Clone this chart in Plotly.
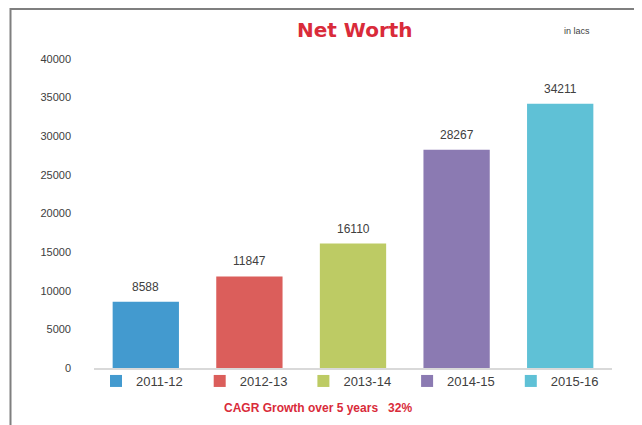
import plotly.graph_objects as go

years = ["2011-12", "2012-13", "2013-14", "2014-15", "2015-16"]
net_worth = [8588, 11847, 16110, 28267, 34211]
colors = ["#439ACF", "#DB5E5B", "#BDCB64", "#8B7AB2", "#5FC1D6"]
y_ticks = [0, 5000, 10000, 15000, 20000, 25000, 30000, 35000, 40000]

# page is drawn with an 8px body margin -> figure coords = page coords - 8
W, H = 634, 417
L, R, T, B = 86, 30, 51, 57
pw, ph = W - L - R, H - T - B

def px_x(x):
    return (x - 8 - L) / pw

def px_y(y):
    return (H - B - (y - 8)) / ph

fig = go.Figure()
for yr, v, c in zip(years, net_worth, colors):
    fig.add_trace(go.Bar(x=[yr], y=[v], name=yr, marker=dict(color=c, line=dict(width=0)),
                         width=0.64, hoverinfo="x+y"))
    fig.add_annotation(x=yr, y=v, text=str(v), showarrow=False, yanchor="bottom", yshift=6,
                       font=dict(family="Liberation Sans", size=12, color="#404040"))

fig.add_annotation(xref="paper", yref="paper", x=px_x(355), y=px_y(30), text="<b>Net Worth</b>",
                   showarrow=False, yanchor="middle",
                   font=dict(family="DejaVu Sans", size=20, color="#D92B3A"))
fig.add_annotation(xref="paper", yref="paper", x=px_x(592), y=px_y(31), text="in lacs",
                   showarrow=False, yanchor="middle",
                   font=dict(family="Liberation Sans", size=9, color="#404040"))
fig.add_annotation(xref="paper", yref="paper", x=px_x(318), y=px_y(408),
                   text="<b>CAGR Growth over 5 years   32%</b>", yanchor="middle",
                   showarrow=False, font=dict(family="Liberation Sans", size=12, color="#D92B3A"))

fig.add_shape(type="rect", xref="paper", yref="paper",
              x0=px_x(10.5), x1=px_x(640.5), y0=px_y(440), y1=px_y(9),
              line=dict(color="#7F7F7F", width=2), layer="above")

fig.update_layout(
    width=W, height=H,
    margin=dict(l=L, r=R, t=T, b=B, pad=0),
    paper_bgcolor="white", plot_bgcolor="white",
    barmode="overlay",
    showlegend=True,
    legend=dict(orientation="h", x=px_x(96), xanchor="left", y=px_y(381), yanchor="middle",
                entrywidth=58.7, entrywidthmode="pixels", itemwidth=30,
                font=dict(family="Liberation Sans", size=13, color="#404040"),
                bgcolor="rgba(0,0,0,0)", tracegroupgap=0),
    xaxis=dict(type="category", showticklabels=False, showline=True, linecolor="#D9D9D9", linewidth=2,
               ticks="", showgrid=False, zeroline=False, range=[-0.5, 4.5]),
    yaxis=dict(range=[0, 40000], tickvals=y_ticks, ticktext=[str(t) for t in y_ticks],
               showgrid=False, zeroline=False, showline=False, ticks="",
               ticklabelstandoff=22,
               tickfont=dict(family="Liberation Sans", size=11, color="#404040")),
)

fig.write_html("out.html")
